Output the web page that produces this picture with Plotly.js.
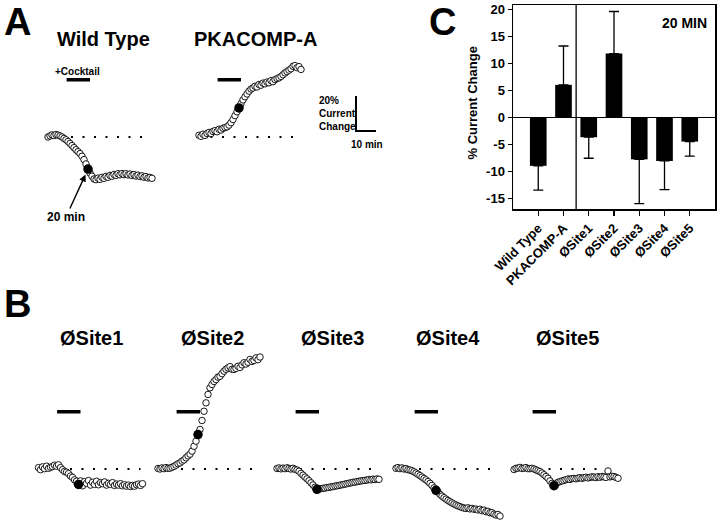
<!DOCTYPE html>
<html><head><meta charset="utf-8">
<script src="https://cdn.plot.ly/plotly-3.0.1.min.js"></script>
<style>html,body{margin:0;padding:0;background:#fff}#chart{width:720px;height:524px}</style>
</head><body><div id="chart"></div>
<script>
// ---- Panel C data ----
const categories = ["Wild Type", "PKACOMP-A", "ØSite1", "ØSite2", "ØSite3", "ØSite4", "ØSite5"];
const meanChange = [-8.9, 6.1, -3.6, 11.9, -7.7, -8.0, -4.4];
const semChange = [4.5, 7.2, 3.9, 7.8, 8.2, 5.3, 2.7];
const yTicks = [-15, -10, -5, 0, 5, 10, 15, 20];

// ---- Example traces (% current change, one sample per minute) ----
const sampleMin = 1;
const filledIndex = 20;
const cocktailStart = 9.3, cocktailEnd = 21, cocktailLevel = 32.7;
const wtVals = [0, 0.6, 1.2, 0.8, 1.4, 1.1, 0.6, 0.0, -0.8, -1.6, -2.6, -3.7, -4.9, -6.1, -7.3, -8.4, -9.5, -11.0, -12.9, -15.4,
  -18.3, -20.6, -22.4, -24.0, -24.4, -23.5, -24.2, -23.0, -23.6, -22.5, -23.0, -22.0, -22.4, -21.4, -21.9, -21.0, -21.6, -20.9, -21.5, -21.0,
  -21.7, -21.2, -22.0, -21.5, -22.3, -21.8, -22.6, -22.2, -23.0, -22.6, -23.4, -23.1, -23.6];
const pkaVals = [1.0, 0.4, 1.6, 0.9, 2.0, 2.6, 2.0, 3.2, 3.6, 3.0, 4.4, 4.0, 5.0, 5.4, 5.8, 6.8, 8.2, 10.0, 12.2, 14.4,
  16.6, 19.0, 21.2, 23.0, 24.6, 26.2, 27.4, 28.0, 29.0, 28.6, 30.0, 29.6, 30.8, 30.4, 31.4, 31.0, 32.2, 31.6, 32.8, 33.4,
  33.8, 34.6, 35.6, 36.6, 37.4, 38.2, 39.0, 40.4, 40.8, 39.6, 40.2, 38.6];
const site1Vals = [0.8, -0.4, 1.2, 0.2, 1.6, 0.4, 1.0, 1.4, 2.2, 1.6, 2.4, 0.8, -0.4, -1.4, -1.8, -2.6, -4.0, -4.8, -6.2, -7.0,
  -8.8, -6.8, -9.6, -7.2, -8.2, -6.6, -9.2, -7.6, -8.8, -7.0, -9.0, -7.8, -8.4, -7.4, -9.2, -8.2, -8.8, -7.8, -9.4, -8.6,
  -9.2, -8.4, -9.6, -9.0, -9.8, -9.2, -10.0, -9.4, -9.8, -9.0, -8.6, -9.4, -8.4];
const site2Vals = [0.3, 0.0, 0.6, 0.2, 0.8, 0.4, 0.5, 1.0, 1.5, 2.2, 3.0, 3.5, 4.5, 5.2, 6.4, 7.5, 8.5, 10.2, 13.0, 15.9,
  19.7, 22.6, 27.7, 33.0, 37.8, 42.6, 46.4, 48.3, 50.0, 51.1, 52.5, 53.0, 54.5, 55.9, 57.0, 57.8, 58.5, 57.0, 56.9, 57.5,
  58.7, 58.0, 59.5, 60.7, 60.0, 61.0, 62.6, 61.5, 62.0, 63.5, 62.5, 64.0];
const site3Vals = [0.3, 0.6, 0.1, 0.5, 0.2, 0.7, 0.3, 0.0, 0.4, -0.2, -0.6, -1.3, -2.5, -3.5, -4.6, -5.6, -6.7, -7.9, -9.1, -10.4,
  -11.6, -11.4, -11.2, -11.0, -10.9, -10.6, -10.5, -10.2, -10.1, -9.8, -9.6, -9.4, -9.1, -8.9, -8.6, -8.4, -8.1, -7.9, -7.6, -7.5,
  -7.2, -7.0, -6.8, -6.6, -6.5, -6.3, -6.0, -6.2, -5.8, -6.0, -5.7, -5.9];
const site4Vals = [0.4, 0.8, 0.2, 0.6, 0.0, 0.2, -0.4, -0.6, -1.0, -1.6, -2.3, -3.0, -3.8, -4.6, -5.4, -6.2, -7.2, -8.2, -9.4, -10.8,
  -12.2, -13.3, -14.5, -15.5, -16.4, -17.2, -18.0, -18.7, -19.4, -20.0, -20.6, -21.1, -21.5, -22.0, -22.3, -22.5, -22.2, -22.8, -22.5, -23.0,
  -22.9, -23.4, -23.0, -23.8, -23.5, -24.4, -24.2, -25.0, -25.0, -25.8, -26.3, -26.0, -26.9];
const site5Vals = [-0.3, 0.4, 0.5, 0.9, 0.3, 0.5, 0.8, 0.2, 0.2, 0.4, 0.0, -0.5, -1.0, -1.5, -2.3, -3.3, -4.3, -5.3, -6.8, -8.2,
  -9.5, -8.5, -7.6, -7.2, -6.8, -6.5, -6.1, -5.7, -5.9, -5.5, -5.4, -5.6, -5.2, -5.0, -5.3, -5.0, -4.7, -5.1, -4.8, -4.5,
  -4.6, -4.9, -4.4, -4.7, -4.3, -4.5, -4.8, -1.1, -4.5, -4.2, -4.3, -4.8, -5.3];
const traceNames = ["Wild Type", "PKACOMP-A", "ØSite1", "ØSite2", "ØSite3", "ØSite4", "ØSite5"];
const traceSeries = [wtVals, pkaVals, site1Vals, site2Vals, site3Vals, site4Vals, site5Vals];
const baselineStart = [0, 0, -1.5, 0, 0, 0, 0];
const baselineEnd = [51.5, 51, 51, 50.5, 51, 50.5, 50];
const scaleBarPct = 20, scaleBarMin = 10;

// ---- layout geometry (pixels) ----
const W = 720, H = 524, PX_MIN = 2, PX_PCT = 1.75;
const fx = x => x / W, fy = y => 1 - y / H;
const F = "Liberation Sans, Arial, Helvetica, sans-serif";
const panelGeo = [
  {ox: 48, oy: 137, t0: -4, t1: 58, tx: 103, ty: 39},
  {ox: 199, oy: 137, t0: -4, t1: 92, tx: 255, ty: 39},
  {ox: 38.5, oy: 469, t0: -3, t1: 56, tx: 91, ty: 338},
  {ox: 158, oy: 469, t0: -3, t1: 56, tx: 212.5, ty: 338},
  {ox: 277, oy: 469, t0: -3, t1: 56, tx: 332.5, ty: 338},
  {ox: 396, oy: 469, t0: -3, t1: 56, tx: 448, ty: 338},
  {ox: 514, oy: 469, t0: -3, t1: 56, tx: 567.5, ty: 338}
];
const V0 = -30, V1 = 70;

const data = [];
const annotations = [];
const shapes = [];
const layout = {
  width: W, height: H, autosize: false,
  margin: {l: 0, r: 0, t: 0, b: 0},
  paper_bgcolor: '#fff', plot_bgcolor: 'rgba(0,0,0,0)',
  showlegend: false,
  font: {family: F, color: '#000', weight: 'bold'}
};
function label(text, x, y, size, extra) {
  annotations.push(Object.assign({xref: 'paper', yref: 'paper', x: fx(x), y: fy(y), text: text, showarrow: false,
    xanchor: 'center', yanchor: 'middle', font: {family: F, size: size, weight: 'bold', color: '#000'}}, extra || {}));
}

// ---- Panel C bar chart ----
const errUp = meanChange.map((m, i) => m > 0 ? semChange[i] : 0);
const errDown = meanChange.map((m, i) => m < 0 ? semChange[i] : 0);
data.push({
  type: 'bar', x: categories, y: meanChange, xaxis: 'x', yaxis: 'y', width: 0.66,
  marker: {color: '#000', line: {width: 0}},
  error_y: {type: 'data', symmetric: false, array: errUp, arrayminus: errDown, color: '#000', thickness: 1.3, width: 5},
  hoverinfo: 'skip'
});
layout.xaxis = {
  domain: [fx(513), fx(715)], range: [-1, 7], type: 'category', anchor: 'y',
  showline: true, mirror: true, linecolor: '#000', linewidth: 1.5,
  ticks: 'outside', ticklen: 5, tickwidth: 1.2, tickcolor: '#000', tickangle: -45,
  tickfont: {family: F, size: 13, weight: 'bold', color: '#000'},
  showgrid: false, zeroline: false, fixedrange: true
};
layout.yaxis = {
  domain: [fy(209), fy(5)], range: [-16.9, 20.9], anchor: 'x',
  tickvals: yTicks, ticktext: yTicks.map(String),
  showline: true, mirror: true, linecolor: '#000', linewidth: 1.5,
  ticks: 'outside', ticklen: 4, tickwidth: 1.2, tickcolor: '#000',
  tickfont: {family: F, size: 13, weight: 'bold', color: '#000'},
  showgrid: false, zeroline: true, zerolinecolor: '#000', zerolinewidth: 1, fixedrange: true
};
shapes.push({type: 'line', xref: 'x', yref: 'y domain', x0: 1.5, x1: 1.5, y0: 0, y1: 1, line: {color: '#000', width: 1.3}});
label('20 MIN', 684, 23, 14);
label('% Current Change', 471.5, 103, 13, {textangle: -90});

// ---- panel letters ----
label('A', 17.5, 0, 38, {yanchor: 'top', borderpad: 0});
label('B', 17.5, 304, 38);
label('C', 442, 0, 38, {yanchor: 'top', borderpad: 0});

// ---- trace panels ----
traceSeries.forEach((vals, i) => {
  const g = panelGeo[i];
  const k = i + 2;
  const xa = 'x' + k, ya = 'y' + k;
  layout['xaxis' + k] = {domain: [fx(g.ox + g.t0 * PX_MIN), fx(g.ox + g.t1 * PX_MIN)], range: [g.t0, g.t1],
    visible: false, fixedrange: true, anchor: ya};
  layout['yaxis' + k] = {domain: [fy(g.oy - V0 * PX_PCT), fy(g.oy - V1 * PX_PCT)], range: [V0, V1],
    visible: false, fixedrange: true, anchor: xa};
  const t = vals.map((_, j) => j * sampleMin);
  data.push({type: 'scatter', mode: 'lines', x: [baselineStart[i], baselineEnd[i]], y: [0, 0], xaxis: xa, yaxis: ya,
    line: {color: '#000', width: 2, dash: '2px,9.5px'}, hoverinfo: 'skip'});
  data.push({type: 'scatter', mode: 'lines', x: [cocktailStart, cocktailEnd], y: [cocktailLevel, cocktailLevel], xaxis: xa, yaxis: ya,
    line: {color: '#000', width: 3.5}, hoverinfo: 'skip'});
  data.push({type: 'scatter', mode: 'markers', x: t, y: vals, xaxis: xa, yaxis: ya, cliponaxis: false,
    marker: {symbol: 'circle', size: 6.5, color: '#fff', line: {color: '#000', width: 0.9}}, hoverinfo: 'skip'});
  data.push({type: 'scatter', mode: 'markers', x: [t[filledIndex]], y: [vals[filledIndex]], xaxis: xa, yaxis: ya, cliponaxis: false,
    marker: {symbol: 'circle', size: 9.5, color: '#000', line: {color: '#000', width: 0}}, hoverinfo: 'skip'});
  label(traceNames[i], g.tx, g.ty, 20);
  if (i === 0) {
    annotations.push({xref: xa, yref: ya, x: t[filledIndex], y: vals[filledIndex], text: '20 min', showarrow: true,
      arrowhead: 2, arrowsize: 1, arrowwidth: 1.4, arrowcolor: '#000', ax: -22, ay: 48, standoff: 6,
      xanchor: 'center', yanchor: 'middle',
      font: {family: F, size: 12, weight: 'bold', color: '#000'}});
    label('+Cocktail', 77, 71, 10);
  }
  if (i === 1) {
    const sx = 78.5, sy = 3.4;
    data.push({type: 'scatter', mode: 'lines', x: [sx, sx, sx + scaleBarMin], y: [sy + scaleBarPct, sy, sy], xaxis: xa, yaxis: ya,
      line: {color: '#000', width: 2}, hoverinfo: 'skip'});
    label('20%<br>Current<br>Change', 316.5, 114, 10, {xanchor: 'left', align: 'left'});
    label('10 min', 367, 144, 10);
  }
});

layout.annotations = annotations;
layout.shapes = shapes;
Plotly.newPlot('chart', data, layout, {staticPlot: true, displayModeBar: false});
</script>
</body></html>
